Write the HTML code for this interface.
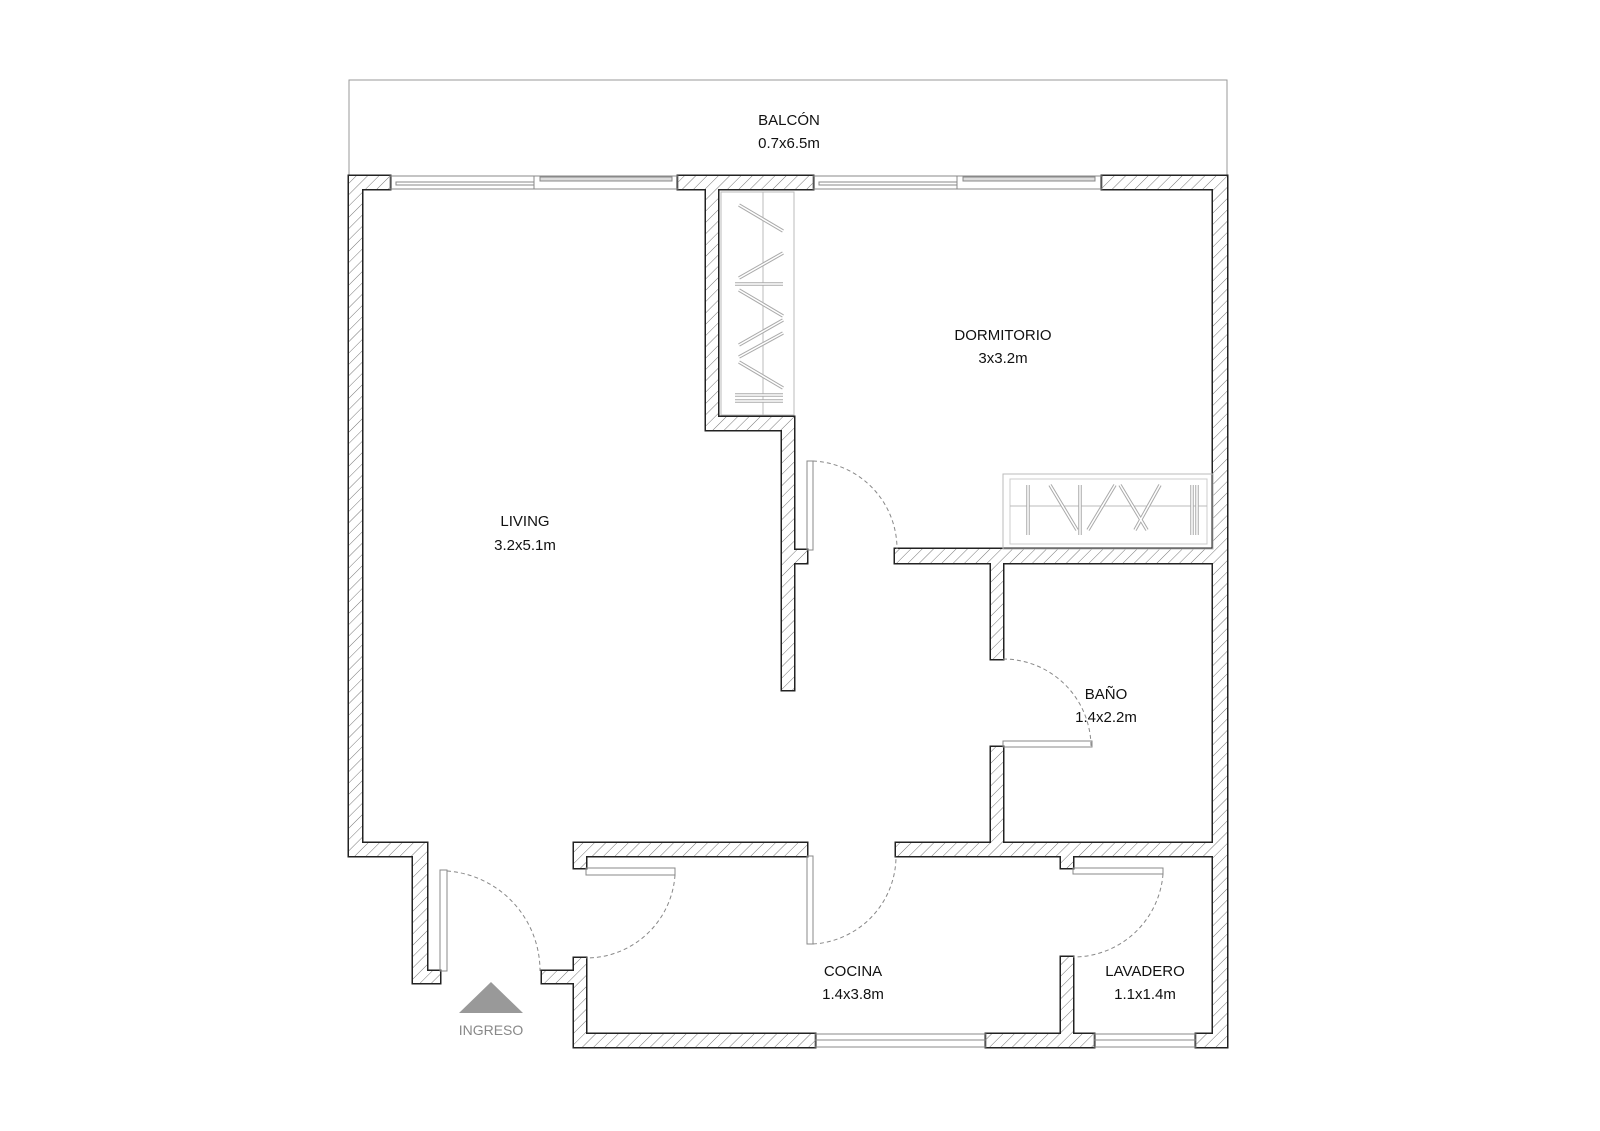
<!DOCTYPE html>
<html><head><meta charset="utf-8"><style>
html,body{margin:0;padding:0;background:#fff;}
svg{display:block;}
text{font-family:"Liberation Sans",sans-serif;font-size:15px;fill:#111;text-anchor:middle;}
</style></head><body>
<svg width="1600" height="1131" viewBox="0 0 1600 1131" xmlns="http://www.w3.org/2000/svg">
<defs>
<pattern id="h" patternUnits="userSpaceOnUse" width="8" height="8" patternTransform="rotate(45)">
<rect width="8" height="8" fill="#fff"/><line x1="0" y1="0" x2="0" y2="8" stroke="#777" stroke-width="1"/>
</pattern>
</defs>
<rect x="349" y="80" width="878" height="96" fill="none" stroke="#999" stroke-width="1"/>
<g id="walls">
<g stroke="#222" stroke-width="3" fill="#222">
<rect x="349" y="176" width="41" height="13"/><rect x="678" y="176" width="135" height="13"/><rect x="1102" y="176" width="125" height="13"/>
<rect x="349" y="176" width="13" height="680"/>
<rect x="706" y="189" width="12" height="241"/><rect x="706" y="417" width="88" height="13"/><rect x="782" y="417" width="12" height="273"/><rect x="794" y="550" width="13" height="13"/>
<rect x="1213" y="176" width="14" height="871"/>
<rect x="895" y="549" width="332" height="14"/>
<rect x="991" y="549" width="12" height="110"/><rect x="991" y="747" width="12" height="109"/>
<rect x="896" y="843" width="331" height="13"/><rect x="574" y="843" width="233" height="13"/>
<rect x="349" y="843" width="78" height="13"/><rect x="413" y="843" width="14" height="140"/><rect x="427" y="971" width="13" height="12"/>
<rect x="574" y="843" width="12" height="25"/><rect x="574" y="958" width="12" height="89"/><rect x="542" y="971" width="32" height="12"/>
<rect x="574" y="1034" width="241" height="13"/><rect x="986" y="1034" width="108" height="13"/><rect x="1196" y="1034" width="31" height="13"/>
<rect x="1061" y="843" width="12" height="25"/><rect x="1061" y="957" width="12" height="90"/>
</g>
<g fill="url(#h)">
<rect x="349" y="176" width="41" height="13"/><rect x="678" y="176" width="135" height="13"/><rect x="1102" y="176" width="125" height="13"/>
<rect x="349" y="176" width="13" height="680"/>
<rect x="706" y="189" width="12" height="241"/><rect x="706" y="417" width="88" height="13"/><rect x="782" y="417" width="12" height="273"/><rect x="794" y="550" width="13" height="13"/>
<rect x="1213" y="176" width="14" height="871"/>
<rect x="895" y="549" width="332" height="14"/>
<rect x="991" y="549" width="12" height="110"/><rect x="991" y="747" width="12" height="109"/>
<rect x="896" y="843" width="331" height="13"/><rect x="574" y="843" width="233" height="13"/>
<rect x="349" y="843" width="78" height="13"/><rect x="413" y="843" width="14" height="140"/><rect x="427" y="971" width="13" height="12"/>
<rect x="574" y="843" width="12" height="25"/><rect x="574" y="958" width="12" height="89"/><rect x="542" y="971" width="32" height="12"/>
<rect x="574" y="1034" width="241" height="13"/><rect x="986" y="1034" width="108" height="13"/><rect x="1196" y="1034" width="31" height="13"/>
<rect x="1061" y="843" width="12" height="25"/><rect x="1061" y="957" width="12" height="90"/>
</g>
</g>
<g fill="none" stroke="#888" stroke-width="1">
<rect x="390" y="176" width="288" height="13"/><line x1="534" y1="176" x2="534" y2="189"/><rect x="396" y="182" width="138" height="3"/><rect x="540" y="177" width="132" height="4" fill="#ddd"/>
<rect x="813" y="176" width="289" height="13"/><line x1="957" y1="176" x2="957" y2="189"/><rect x="819" y="182" width="138" height="3"/><rect x="963" y="177" width="132" height="4" fill="#ddd"/>
<rect x="815" y="1034" width="171" height="13"/><line x1="815" y1="1040" x2="986" y2="1040"/>
<rect x="1094" y="1034" width="102" height="13"/><line x1="1094" y1="1040" x2="1196" y2="1040"/>
<rect x="807" y="461" width="6" height="89"/>
<rect x="1003" y="741" width="89" height="6"/>
<rect x="807" y="856" width="6" height="88"/>
<rect x="1073" y="868" width="90" height="6"/>
<rect x="586" y="868" width="89" height="7"/>
<rect x="440" y="870" width="7" height="101"/>
<rect x="721" y="192" width="73" height="223" stroke="#bbb"/><line x1="763" y1="192" x2="763" y2="415" stroke="#bbb"/>
<rect x="1003" y="474" width="210" height="75" stroke="#bbb"/><rect x="1010" y="479" width="197" height="65" stroke="#ccc"/><line x1="1010" y1="506" x2="1207" y2="506" stroke="#bbb"/>
</g>
<g fill="none" stroke="#aaa" stroke-width="3.5"><path id="hg1" d="M739 205 L783 231 M739 278 L783 253 M735 284 L783 284 M739 290 L783 316 M739 345 L783 320 M739 357 L783 333 M739 362 L783 388 M735 395 L783 395 M735 401 L783 401"/><path d="M1028 485 L1028 535 M1050 485 L1077 530 M1080 485 L1080 535 M1088 530 L1115 485 M1120 485 L1147 530 M1160 485 L1135 530 M1192 485 L1192 535 M1197 485 L1197 535"/></g>
<g fill="none" stroke="#fff" stroke-width="1.5"><path d="M739 205 L783 231 M739 278 L783 253 M735 284 L783 284 M739 290 L783 316 M739 345 L783 320 M739 357 L783 333 M739 362 L783 388 M735 395 L783 395 M735 401 L783 401"/><path d="M1028 485 L1028 535 M1050 485 L1077 530 M1080 485 L1080 535 M1088 530 L1115 485 M1120 485 L1147 530 M1160 485 L1135 530 M1192 485 L1192 535 M1197 485 L1197 535"/></g>
<g fill="none" stroke="#888" stroke-width="1" stroke-dasharray="4,3">
<path d="M813 461 A88 88 0 0 1 897 549"/>
<path d="M1003 659 A88 88 0 0 1 1091 747"/>
<path d="M813 944 A88 88 0 0 0 896 856"/>
<path d="M1163 874 A90 90 0 0 1 1073 957"/>
<path d="M675 875 A89 89 0 0 1 586 958"/>
<path d="M447 871 A100 100 0 0 1 540 971"/>
</g>
<polygon points="459,1013 491,982 523,1013" fill="#999"/>
<text x="491" y="1035" style="fill:#888;font-size:14px">INGRESO</text>
<text x="789" y="125">BALCÓN</text><text x="789" y="148">0.7x6.5m</text>
<text x="1003" y="340">DORMITORIO</text><text x="1003" y="363">3x3.2m</text>
<text x="525" y="526">LIVING</text><text x="525" y="550">3.2x5.1m</text>
<text x="1106" y="699">BAÑO</text><text x="1106" y="722">1.4x2.2m</text>
<text x="853" y="976">COCINA</text><text x="853" y="999">1.4x3.8m</text>
<text x="1145" y="976">LAVADERO</text><text x="1145" y="999">1.1x1.4m</text>
</svg>
</body></html>
